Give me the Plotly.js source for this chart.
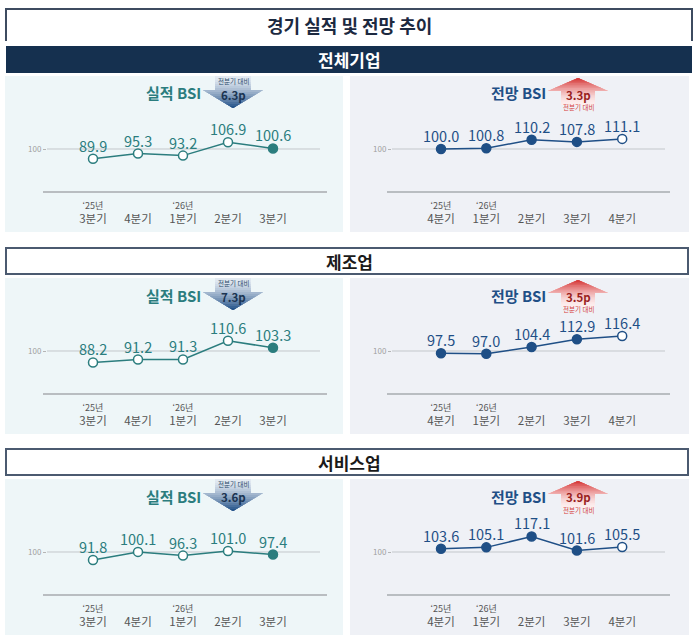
<!DOCTYPE html>
<html><head><meta charset="utf-8">
<script src="https://cdn.plot.ly/plotly-3.0.1.min.js"></script>
<style>html,body{margin:0;padding:0;background:#fff}#chart{width:700px;height:637px}</style>
</head><body><div id="chart"></div>
<script>
// ---------- data ----------
const mainTitle = '경기 실적 및 전망 추이';
const sections = ['전체기업', '제조업', '서비스업'];
const actualTitle = '실적 BSI';
const outlookTitle = '전망 BSI';
const changeLabel = '전분기 대비';
const actualQuarters = ['3분기', '4분기', '1분기', '2분기', '3분기'];
const actualYears = ['‘25년', '', '‘26년', '', ''];
const outlookQuarters = ['4분기', '1분기', '2분기', '3분기', '4분기'];
const outlookYears = ['‘25년', '‘26년', '', '', ''];
const actualTotal = [89.9, 95.3, 93.2, 106.9, 100.6];
const actualMfg = [88.2, 91.2, 91.3, 110.6, 103.3];
const actualSvc = [91.8, 100.1, 96.3, 101.0, 97.4];
const outlookTotal = [100.0, 100.8, 110.2, 107.8, 111.1];
const outlookMfg = [97.5, 97.0, 104.4, 112.9, 116.4];
const outlookSvc = [103.6, 105.1, 117.1, 101.6, 105.5];
const actualChange = [6.3, 7.3, 3.6];   // decrease vs previous quarter
const outlookChange = [3.3, 3.5, 3.9];  // increase vs previous quarter
const refValue = 100;

// ---------- layout helpers ----------
const W = 700, H = 637;
const px = x => x / W, py = y => 1 - y / H;
const FONT = '"Noto Sans CJK KR", "Noto Sans", sans-serif';
const TEAL = '#2b7d7e', NAVY = '#1f4f86';
const dys = [0, 202, 403];
const actualSets = [actualTotal, actualMfg, actualSvc];
const outlookSets = [outlookTotal, outlookMfg, outlookSvc];

const sides = [
  {sets: actualSets, q: actualQuarters, yr: actualYears, color: TEAL, bg: '#eef6f8',
   panel: [5, 343], dom: [47, 320], first: 93, step: 45, axis: [43, 327], k: 0.97,
   filled: i => i === 4, title: actualTitle, tx: 173},
  {sets: outlookSets, q: outlookQuarters, yr: outlookYears, color: NAVY, bg: '#eff1f6',
   panel: [350, 689], dom: [392, 665], first: 441, step: 45.3, axis: [387, 670], k: 0.91,
   filled: i => i < 4, title: outlookTitle, tx: 518}
];

const traces = [], shapes = [], annotations = [];
const layout = {
  width: W, height: H, margin: {l: 0, r: 0, t: 0, b: 0},
  paper_bgcolor: '#ffffff', plot_bgcolor: 'rgba(0,0,0,0)',
  showlegend: false, font: {family: FONT},
  shapes, annotations
};

function ann(text, x, y, size, color, bold, extra) {
  annotations.push(Object.assign({
    text, x: px(x), y: py(y), xref: 'paper', yref: 'paper',
    xanchor: 'center', yanchor: 'middle', showarrow: false, borderpad: 0,
    font: {family: FONT, size, color, weight: bold ? 700 : 400}
  }, extra || {}));
}
function pathOf(poly) {
  return 'M' + poly.map(p => px(p[0]).toFixed(5) + ',' + py(p[1]).toFixed(5)).join('L') + 'Z';
}
function clip(poly, yk, keepGreater) {
  const out = [];
  const inside = p => keepGreater ? p[1] >= yk : p[1] <= yk;
  for (let i = 0; i < poly.length; i++) {
    const a = poly[i], b = poly[(i + 1) % poly.length];
    const ia = inside(a), ib = inside(b);
    if (ia) out.push(a);
    if (ia !== ib) {
      const t = (yk - a[1]) / (b[1] - a[1]);
      out.push([a[0] + t * (b[0] - a[0]), yk]);
    }
  }
  return out;
}
function hex(c) { return [1, 3, 5].map(i => parseInt(c.substr(i, 2), 16)); }
function mix(c0, c1, t) {
  const a = hex(c0), b = hex(c1);
  return 'rgb(' + a.map((v, i) => Math.round(v + (b[i] - v) * t)).join(',') + ')';
}
function gradientArrow(poly, yStart, yEnd, c0, c1, keepGreater, gamma) {
  const N = 16;
  for (let j = 0; j < N; j++) {
    const yk = yStart + (yEnd - yStart) * j / N;
    const part = j === 0 ? poly : clip(poly, yk, keepGreater);
    if (part.length < 3) continue;
    shapes.push({type: 'path', path: pathOf(part), xref: 'paper', yref: 'paper',
      fillcolor: mix(c0, c1, Math.pow(j / (N - 1), gamma)), line: {width: 0}, layer: 'below'});
  }
}

// ---------- header ----------
shapes.push({type: 'path', path: pathOf([[6, 41], [6, 9], [692, 9], [692, 41]]).replace('Z', ''),
  xref: 'paper', yref: 'paper', line: {color: '#3d4b60', width: 2}, layer: 'below'});
ann(mainTitle, 349, 25, 18, '#1c2940', true);

sections.forEach((name, s) => {
  const dy = dys[s];
  if (s === 0) {
    shapes.push({type: 'rect', xref: 'paper', yref: 'paper', x0: px(6), x1: px(692), y0: py(46), y1: py(73),
      fillcolor: '#15304f', line: {width: 0}, layer: 'below'});
    ann(name, 349, 59.5, 17, '#ffffff', true);
  } else {
    shapes.push({type: 'rect', xref: 'paper', yref: 'paper', x0: px(6), x1: px(688), y0: py(46 + dy), y1: py(72 + dy),
      fillcolor: '#ffffff', line: {color: '#4b5a70', width: 2}, layer: 'below'});
    ann(name, 349, 59.5 + dy, 17, '#1a1a1a', true);
  }

  sides.forEach((sd, side) => {
    const n = s * 2 + side + 1;
    const xa = 'xaxis' + (n > 1 ? n : ''), ya = 'yaxis' + (n > 1 ? n : '');
    const vals = sd.sets[s];
    // panel background
    shapes.push({type: 'rect', xref: 'paper', yref: 'paper', x0: px(sd.panel[0]), x1: px(sd.panel[1]),
      y0: py(232 + dy), y1: py(76 + dy), fillcolor: sd.bg, line: {width: 0}, layer: 'below'});
    // reference line at 100
    shapes.push({type: 'line', xref: 'paper', yref: 'y' + n, x0: px(sd.dom[0]), x1: px(sd.dom[1]),
      y0: refValue, y1: refValue, line: {color: '#c3c7cb', width: 1}, layer: 'below'});
    // baseline
    shapes.push({type: 'line', xref: 'paper', yref: 'paper', x0: px(sd.axis[0]), x1: px(sd.axis[1]),
      y0: py(192 + dy), y1: py(192 + dy), line: {color: '#b9bdc1', width: 2}, layer: 'below'});

    const top = 100 + dy, bot = 192 + dy, ref = 149 + dy;
    const yLo = refValue - (bot - ref) / sd.k, yHi = refValue + (ref - top) / sd.k;
    const xLo = -(sd.first - sd.dom[0]) / sd.step;
    const xHi = 4 + (sd.dom[1] - (sd.first + 4 * sd.step)) / sd.step;

    layout[xa] = {
      domain: [px(sd.dom[0]), px(sd.dom[1])], range: [xLo, xHi], anchor: 'y' + n,
      showgrid: false, zeroline: false, showline: false, ticks: '',
      tickmode: 'array', tickvals: [0, 1, 2, 3, 4],
      ticktext: sd.q.map((q, i) => '<span style="font-size:9px">' + (sd.yr[i] || '\u00a0') + '</span><br>' + q),
      tickfont: {family: FONT, size: 11.5, color: '#555555'}, ticklabelstandoff: 4, fixedrange: true
    };
    layout[ya] = {
      domain: [py(bot), py(top)], range: [yLo, yHi], anchor: 'x' + n,
      showgrid: false, zeroline: false, showline: false,
      tickmode: 'array', tickvals: [refValue], ticktext: [String(refValue)],
      ticks: 'outside', ticklen: 3, tickwidth: 1, tickcolor: '#b5b5b5',
      tickfont: {family: FONT, size: 8, color: '#9f9f9f'}, fixedrange: true
    };
    traces.push({
      type: 'scatter', mode: 'lines+markers', xaxis: 'x' + n, yaxis: 'y' + n,
      x: [0, 1, 2, 3, 4], y: vals, cliponaxis: false, hoverinfo: 'skip',
      line: {color: sd.color, width: 1.5},
      marker: {size: 9, color: vals.map((v, i) => sd.filled(i) ? sd.color : '#ffffff'),
        line: {color: sd.color, width: 1.5}}
    });
    // value labels, placed through the subplot's own axes
    vals.forEach((v, i) => {
      annotations.push({
        text: v.toFixed(1), x: i, y: v, xref: 'x' + n, yref: 'y' + n,
        xanchor: 'center', yanchor: 'middle', yshift: 13.5, showarrow: false, borderpad: 0,
        font: {family: FONT, size: 14.5, color: sd.color}
      });
    });
    ann(sd.title, sd.tx, 93 + dy, 15, sd.color, true);

    if (side === 0) {
      const cx = 233, tp = 76 + dy, wy = 90 + dy, tip = 108 + dy, bh = 18, wh = 30;
      const poly = [[cx - bh, tp], [cx + bh, tp], [cx + bh, wy], [cx + wh, wy], [cx, tip], [cx - wh, wy], [cx - bh, wy]];
      gradientArrow(poly, tp, tip, '#e3eaf2', '#26548a', true, 1.4);
      ann(changeLabel, cx, 81 + dy, 6.5, '#2a4a6a', false);
      ann(actualChange[s].toFixed(1) + 'p', cx, 94.5 + dy, 11.5, '#1b3452', true);
    } else {
      const cx = 578, tip = 78 + dy, wy = 91 + dy, bt = 105 + dy, bh = 17, wh = 30;
      const poly = [[cx, tip], [cx + wh, wy], [cx + bh, wy], [cx + bh, bt], [cx - bh, bt], [cx - bh, wy], [cx - wh, wy]];
      gradientArrow(poly, bt, tip, '#fdeeee', '#d63a3a', false, 1.6);
      ann(outlookChange[s].toFixed(1) + 'p', cx, 94.5 + dy, 11.5, '#9a1e1e', true);
      ann(changeLabel, cx, 107 + dy, 6.5, '#d63c3c', false);
    }
  });
});

Plotly.newPlot('chart', traces, layout, {staticPlot: true});
</script>
</body></html>
